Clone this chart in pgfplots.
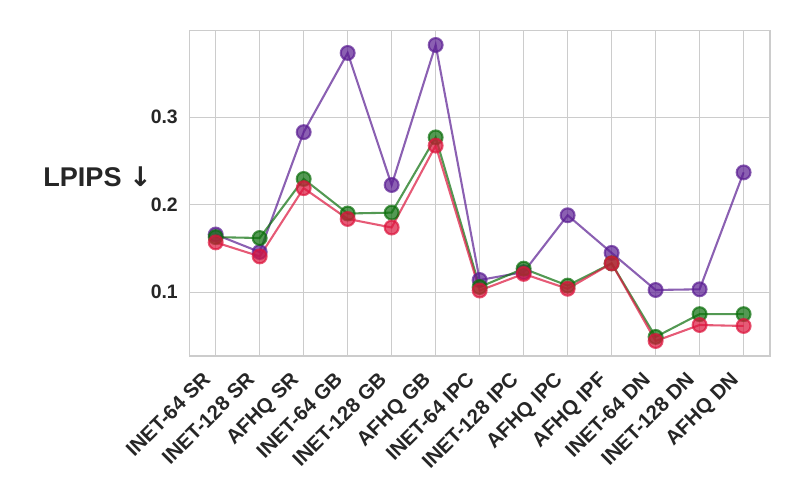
\documentclass[border=0pt]{standalone}
\usepackage{pgfplots}
\pgfplotsset{compat=1.18}
\usepackage{fontspec}
\setmainfont{Liberation Sans}
\newfontfamily\dejavu{DejaVu Sans}
\definecolor{txt}{HTML}{262626}
\definecolor{gridc}{HTML}{CCCCCC}
\definecolor{cpur}{HTML}{5A1D92}
\definecolor{cgrn}{HTML}{0A6E0A}
\definecolor{cred}{HTML}{DC143C}
\begin{document}
\begin{tikzpicture}
\useasboundingbox (0,0) rectangle (576bp,360bp);
\begin{axis}[
  at={(136.3bp,103.7bp)}, anchor=south west,
  scale only axis, width=418.1bp, height=234.5bp,
  xmin=-0.6, xmax=12.6, ymin=0.0272, ymax=0.3994,
  xtick={0,...,12},
  xticklabels={INET-64 SR,INET-128 SR,AFHQ SR,INET-64 GB,INET-128 GB,AFHQ GB,INET-64 IPC,INET-128 IPC,AFHQ IPC,AFHQ IPF,INET-64 DN,INET-128 DN,AFHQ DN},
  ytick={0.1,0.2,0.3},
  /pgf/number format/fixed, /pgf/number format/fixed zerofill, /pgf/number format/precision=1, /pgf/number format/assume math mode=true,
  major tick length=0pt,
  xmajorgrids, ymajorgrids,
  grid style={gridc, line width=0.75bp},
  axis line style={gridc, line width=0.9bp},
  tick label style={text=txt},
  x tick label style={font=\fontsize{14.7bp}{16bp}\selectfont\bfseries, xshift=-2.9bp, yshift=-17.8bp, rotate=45, anchor=base east, inner sep=0pt},
  y tick label style={font=\fontsize{14bp}{16bp}\selectfont\bfseries, anchor=east, inner sep=0pt, xshift=-8.1bp},
  every axis plot/.append style={line width=1.5bp, opacity=0.7, mark=*, mark size=5bp, mark options={line width=1bp}},
  clip=false,
]
\addplot[cpur, mark options={fill=cpur}] coordinates {
(0,0.166) (1,0.146) (2,0.283) (3,0.3735) (4,0.2226) (5,0.3826) (6,0.114) (7,0.123) (8,0.188) (9,0.145) (10,0.1026) (11,0.1034) (12,0.237)};
\addplot[cgrn, mark options={fill=cgrn}] coordinates {
(0,0.163) (1,0.162) (2,0.2295) (3,0.190) (4,0.191) (5,0.277) (6,0.106) (7,0.127) (8,0.1076) (9,0.133) (10,0.049) (11,0.075) (12,0.075)};
\addplot[cred, mark options={fill=cred}] coordinates {
(0,0.157) (1,0.141) (2,0.219) (3,0.1838) (4,0.174) (5,0.2676) (6,0.102) (7,0.121) (8,0.104) (9,0.133) (10,0.0443) (11,0.0626) (12,0.0615)};
\node[anchor=base, inner sep=0pt, text=txt, font=\fontsize{19.5bp}{22bp}\selectfont\bfseries] at (axis description cs:-0.158,0.5198) {LPIPS {\dejavu\bfseries ↓}};
\end{axis}
\end{tikzpicture}
\end{document}
